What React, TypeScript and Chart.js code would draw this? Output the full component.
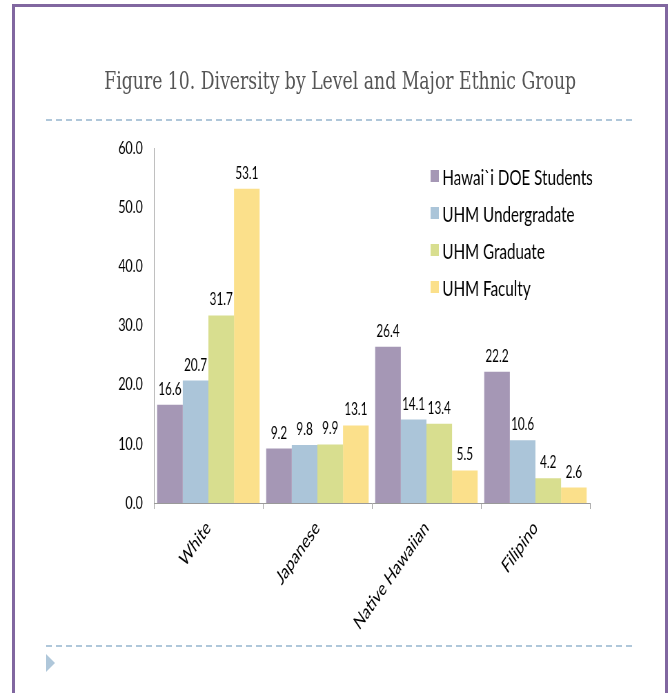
import React, { useEffect, useRef } from "react";
import { Chart, registerables } from "chart.js";

Chart.register(...registerables);

const titleText = "Figure 10. Diversity by Level and Major Ethnic Group";
const categories = ["White", "Japanese", "Native Hawaiian", "Filipino"];
const seriesNames = ["Hawai`i DOE Students", "UHM Undergradate", "UHM Graduate", "UHM Faculty"];
const doeStudents = [16.6, 9.2, 26.4, 22.2];
const uhmUndergrad = [20.7, 9.8, 14.1, 10.6];
const uhmGraduate = [31.7, 9.9, 13.4, 4.2];
const uhmFaculty = [53.1, 13.1, 5.5, 2.6];
const seriesColors = ["#A597B5", "#ABC5D9", "#D8DE8F", "#FBE08B"];
const yMin = 0;
const yMax = 60;
const yStep = 10;

const SX = 0.69; // horizontal squeeze of the original slide
const FONT = "Lato, 'Open Sans', sans-serif";

const valueLabels = {
  id: "valueLabels",
  afterDatasetsDraw(chart: any) {
    const ctx = chart.ctx;
    ctx.save();
    ctx.fillStyle = "#000";
    ctx.font = `17px ${FONT}`;
    ctx.textAlign = "center";
    ctx.textBaseline = "alphabetic";
    chart.data.datasets.forEach((ds: any, i: number) => {
      const meta = chart.getDatasetMeta(i);
      meta.data.forEach((bar: any, j: number) => {
        const v = ds.data[j];
        ctx.fillText(Number(v).toFixed(1), bar.x, bar.y - 10);
      });
    });
    ctx.restore();
  },
};

const insideLegend = {
  id: "insideLegend",
  afterDraw(chart: any) {
    const ctx = chart.ctx;
    const area = chart.chartArea;
    ctx.save();
    ctx.font = `22px ${FONT}`;
    ctx.textAlign = "left";
    ctx.textBaseline = "middle";
    chart.data.datasets.forEach((ds: any, i: number) => {
      const cy = area.top + 28 + 37 * i;
      const x0 = area.left + 401;
      ctx.fillStyle = ds.backgroundColor;
      ctx.fillRect(x0, cy - 6, 12, 12);
      ctx.fillStyle = "#000";
      ctx.fillText(ds.label, x0 + 17, cy + 2);
    });
    ctx.restore();
  },
};

function ChartCanvas() {
  const ref = useRef<HTMLCanvasElement | null>(null);
  useEffect(() => {
    if (!ref.current) return;
    const seriesValues = [doeStudents, uhmUndergrad, uhmGraduate, uhmFaculty];
    const chart = new Chart(ref.current, {
      type: "bar",
      data: {
        labels: categories,
        datasets: seriesValues.map((vals, i) => ({
          label: seriesNames[i],
          data: vals,
          backgroundColor: seriesColors[i],
          borderWidth: 0,
          categoryPercentage: 0.94,
          barPercentage: 1.0,
        })),
      },
      options: {
        responsive: false,
        animation: false,
        devicePixelRatio: 1,
        layout: { padding: { top: 18, right: 117, left: 0, bottom: 0 } },
        plugins: {
          legend: { display: false },
          tooltip: { enabled: false },
          title: { display: false },
        },
        scales: {
          x: {
            offset: true,
            grid: {
              offset: true,
              drawOnChartArea: false,
              drawTicks: true,
              tickLength: 6,
              color: "#9A9A9A",
            },
            border: { display: true, color: "#9A9A9A", width: 1 },
            ticks: {
              minRotation: 45,
              maxRotation: 45,
              autoSkip: false,
              padding: 7,
              color: "#000",
              font: { family: FONT, size: 20 },
            },
            afterFit: (s: any) => {
              s.height = 142;
              s.paddingLeft = 0;
              s.paddingRight = 0;
            },
          },
          y: {
            min: yMin,
            max: yMax,
            grid: { display: false, drawTicks: false },
            border: { display: true, color: "#9A9A9A", width: 1 },
            ticks: {
              stepSize: yStep,
              padding: 16,
              color: "#000",
              font: { family: FONT, size: 18 },
              callback: (v: any) => Number(v).toFixed(1),
            },
            afterFit: (s: any) => {
              s.width = 223;
              s.paddingTop = 0;
              s.paddingBottom = 0;
            },
          },
        },
      },
      plugins: [valueLabels, insideLegend],
    });
    return () => chart.destroy();
  }, []);
  return (
    <canvas
      ref={ref}
      width={972}
      height={515}
      style={{ position: "absolute", left: 0, top: 130, width: 972, height: 515, display: "block" }}
    />
  );
}

const dash = "repeating-linear-gradient(to right, #AFC7DA 0px, #AFC7DA 6px, transparent 6px, transparent 10px)";

export default function App() {
  return (
    <div
      style={{
        position: "absolute",
        left: 0,
        top: 0,
        width: 671,
        height: 693,
        overflow: "hidden",
        background: "#fff",
      }}
    >
      <div
        style={{
          position: "absolute",
          left: 12,
          top: 4,
          width: 656,
          height: 800,
          boxSizing: "border-box",
          border: "3px solid #8167A0",
        }}
      />
      <div style={{ position: "absolute", left: 46, top: 119, width: 588, height: 2, background: dash }} />
      <div style={{ position: "absolute", left: 46, top: 645, width: 588, height: 2, background: dash }} />
      <div
        style={{
          position: "absolute",
          left: 46,
          top: 654,
          width: 0,
          height: 0,
          borderLeft: "9px solid #AFC7DA",
          borderTop: "9.5px solid transparent",
          borderBottom: "9.5px solid transparent",
        }}
      />
      <div
        style={{
          position: "absolute",
          left: 0,
          top: 0,
          width: 986,
          height: 693,
          transform: `scaleX(${SX})`,
          transformOrigin: "0 0",
        }}
      >
        <div
          style={{
            position: "absolute",
            left: 0,
            top: 68,
            width: 986,
            textAlign: "center",
            fontFamily: "'DejaVu Serif', serif",
            fontSize: 25,
            lineHeight: 1,
            color: "#555555",
            whiteSpace: "nowrap",
          }}
        >
          {titleText}
        </div>
        <ChartCanvas />
      </div>
    </div>
  );
}
